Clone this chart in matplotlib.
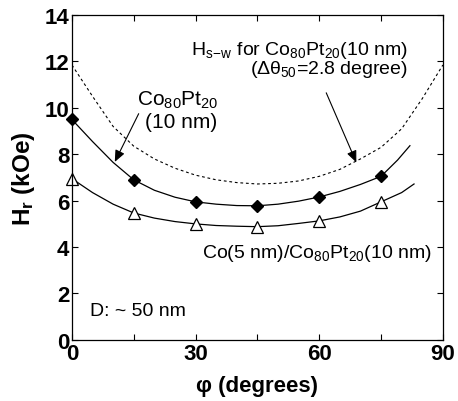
import matplotlib
matplotlib.use("Agg")
import matplotlib.pyplot as plt

plt.rcParams['font.family'] = ['Liberation Sans', 'DejaVu Sans']
plt.rcParams['mathtext.fontset'] = 'custom'
plt.rcParams['mathtext.rm'] = 'Liberation Sans'
plt.rcParams['mathtext.it'] = 'Liberation Sans'
plt.rcParams['mathtext.bf'] = 'Liberation Sans:bold'

# measured points
phi_pts = [0, 15, 30, 45, 60, 75]
copt_pts = [9.5, 6.9, 5.95, 5.78, 6.16, 7.05]
cocopt_pts = [6.95, 5.47, 5.0, 4.88, 5.13, 5.95]

# fitted curves
phi_fit1 = [0, 5, 10, 15, 20, 25, 30, 35, 40, 45, 50, 55, 60, 65, 70, 75, 79, 82]
copt_fit = [9.5, 8.55, 7.65, 6.9, 6.45, 6.15, 5.95, 5.85, 5.79, 5.78, 5.85, 5.98, 6.16, 6.4, 6.7, 7.05, 7.75, 8.37]
phi_fit2 = [0, 5, 10, 15, 20, 25, 30, 35, 40, 45, 50, 55, 60, 65, 70, 75, 80, 83]
cocopt_fit = [6.95, 6.35, 5.85, 5.47, 5.25, 5.1, 5.0, 4.93, 4.9, 4.88, 4.92, 5.02, 5.13, 5.3, 5.55, 5.95, 6.35, 6.72]

# Stoner-Wohlfarth curve
phi_sw = [0, 5, 10, 15, 20, 25, 30, 35, 40, 45, 50, 55, 60, 65, 70, 75, 80, 85, 90]
hsw = [11.85, 10.5, 9.2, 8.35, 7.8, 7.4, 7.1, 6.9, 6.78, 6.72, 6.75, 6.85, 7.05, 7.35, 7.8, 8.3, 9.1, 10.4, 11.85]

fig = plt.figure(figsize=(4.58, 4.02), dpi=100)
ax = fig.add_axes([0.157, 0.152, 0.81, 0.808])

ax.plot(phi_sw, hsw, color='black', lw=0.8, ls=(0, (2.5, 2.5)))
ax.plot(phi_fit1, copt_fit, color='black', lw=0.9)
ax.plot(phi_fit2, cocopt_fit, color='black', lw=0.9)
ax.plot(phi_pts, copt_pts, ls='none', marker='D', ms=6, mfc='black', mec='black', clip_on=False)
ax.plot(phi_pts, cocopt_pts, ls='none', marker='^', ms=8, mfc='white', mec='black', mew=0.9, clip_on=False)

ax.set_xlim(0, 90)
ax.set_ylim(0, 14)
ax.set_xticks([0, 30, 60, 90])
ax.set_xticks([15, 45, 75], minor=True)
ax.set_yticks(range(0, 15, 2))
ax.tick_params(which='both', direction='in', top=True, right=True, length=4, width=0.8,
               labelsize=16, pad=2)
for lab in ax.get_xticklabels() + ax.get_yticklabels():
    lab.set_fontweight('bold')
for s in ax.spines.values():
    s.set_linewidth(0.9)

ax.set_xlabel('φ (degrees)', fontsize=16, fontweight='bold', labelpad=8)
ax.set_ylabel(r'H$_\mathbf{r}$ (kOe)', fontsize=17.5, fontweight='bold', labelpad=5)

ax.text(81.5, 12.5, r'H$_{\mathrm{s\!-\!w}}$ for Co$_{80}$Pt$_{20}$(10 nm)', fontsize=14, va='center', ha='right')
ax.text(81.6, 11.68, r'($\Delta\theta_{50}$=2.8 degree)', fontsize=14, va='center', ha='right')
ax.text(15.7, 10.35, r'Co$_{80}$Pt$_{20}$', fontsize=15, va='center', ha='left')
ax.text(17.7, 9.4, '(10 nm)', fontsize=15, va='center', ha='left')
ax.text(87.3, 3.75, r'Co(5 nm)/Co$_{80}$Pt$_{20}$(10 nm)', fontsize=14, va='center', ha='right')
ax.text(4.4, 1.25, 'D: ~ 50 nm', fontsize=14, va='center', ha='left')

ap = dict(arrowstyle='-|>,head_length=0.7,head_width=0.3', color='black', lw=0.8, shrinkA=0, shrinkB=0)
ax.annotate('', xy=(10.4, 7.67), xytext=(16.2, 9.75), arrowprops=ap)
ax.annotate('', xy=(69.0, 7.65), xytext=(61.7, 10.65), arrowprops=ap)

fig.savefig('out.png', dpi=100)
